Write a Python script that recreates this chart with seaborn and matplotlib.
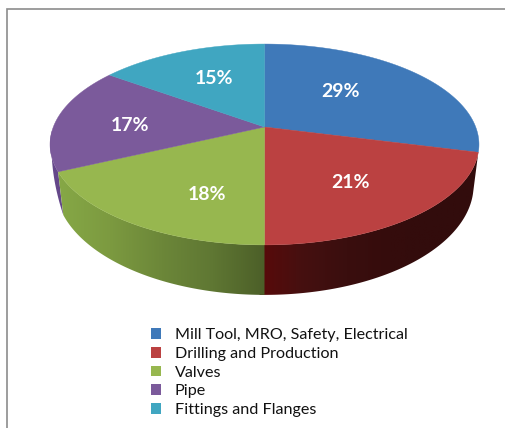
import numpy as np
import matplotlib
matplotlib.use("Agg")
import matplotlib.pyplot as plt
from matplotlib.colors import LinearSegmentedColormap
from matplotlib.patches import Patch, Polygon
import seaborn as sns

categories = ["Mill Tool, MRO, Safety, Electrical", "Drilling and Production",
              "Valves", "Pipe", "Fittings and Flanges"]
shares = [29, 21, 18, 17, 15]
top_colors = ["#3F79B9", "#BB4141", "#97B74F", "#7B5A9B", "#40A6C1"]

sns.set_theme(style="white")
plt.rcParams["font.family"] = ["Lato", "DejaVu Sans"]

fig = plt.figure(figsize=(5.06, 4.28), dpi=100, facecolor="white")
ax = fig.add_axes([0, 0, 1, 1])
ax.set_xlim(0, 506)
ax.set_ylim(428, 0)
ax.axis("off")

# Perspective disc: unit circle projected to pixel-like axes units
CX, CY = 264.5, 127.0
A, B, K = 211.2, 97.4, 0.174


def rim(theta, x_scale=1.0, y_scale=1.0, drop=0.0):
    u, v = np.sin(theta), -np.cos(theta)
    w = 1 - K * v
    return CX + x_scale * A * u / w, CY + drop + y_scale * B * v / w


def lower_rim(theta):
    return rim(theta, x_scale=0.975, y_scale=1.093, drop=39.0)


edges = 2 * np.pi * np.cumsum([0] + shares) / sum(shares)

# Shades across the visible outer wall of each slice, listed left to right
wall_shades = {
    1: ["#5A0A0A", "#451010", "#3A0E0E", "#350C0C", "#320C0C", "#320C0C"],
    2: ["#86A846", "#7C9A40", "#6C8739", "#5F7733", "#4C5F28"],
    3: ["#65488A", "#65488A"],
}
# The red wall runs slightly under the green one so no seam shows between them
wall_limits = {1: (edges[1], edges[2] + 0.02), 2: (edges[2], edges[3]),
               3: (edges[3], np.radians(268))}

for idx in (3, 1, 2):
    start, stop = wall_limits[idx]
    th = np.linspace(start, stop, 240)
    x0, y0 = rim(th)
    x1, y1 = lower_rim(th)
    if idx == 3:
        # Far-left wall narrows towards the silhouette of the top face
        taper = np.linspace(1, 0, th.size)
        x1, y1 = x0 + taper * (x1 - x0), y0 + taper * (y1 - y0)
    outline = np.r_[np.c_[x0, y0], np.c_[x1[::-1], y1[::-1]]]
    clip = Polygon(outline, closed=True, transform=ax.transData, facecolor="none",
                   edgecolor="none")
    ax.add_patch(clip)
    # Horizontal gradient clipped to the wall outline
    cmap = LinearSegmentedColormap.from_list(
        f"wall{idx}", sns.blend_palette(wall_shades[idx], n_colors=64))
    xmin, xmax = outline[:, 0].min(), outline[:, 0].max()
    ymin, ymax = outline[:, 1].min(), outline[:, 1].max()
    im = ax.imshow(np.linspace(0, 1, 256)[None, :], cmap=cmap, aspect="auto",
                   extent=(xmin, xmax, ymax, ymin), zorder=2, interpolation="bilinear")
    im.set_clip_path(clip)

ax.set_xlim(0, 506)
ax.set_ylim(428, 0)

# Top face of the pie
for i, color in enumerate(top_colors):
    th = np.linspace(edges[i], edges[i + 1], 200)
    xs, ys = rim(th)
    ax.add_patch(Polygon(np.r_[[[CX, CY]], np.c_[xs, ys]], closed=True,
                         facecolor=color, edgecolor=color, linewidth=0.3,
                         zorder=3))

label_anchor = [(341, 91), (351, 182), (207, 194), (130, 125), (214, 78)]
for share, (lx, ly) in zip(shares, label_anchor):
    ax.text(lx, ly, f"{share}%", color="white", fontsize=14, fontweight="bold",
            ha="center", va="center", zorder=5)

# Frame drawn only along the top and left
ax.plot([7, 7, 506], [428, 9, 9], color="#8C8C8C", linewidth=1.2,
        solid_joinstyle="miter", zorder=1, clip_on=False)

handles = [Patch(facecolor=c, edgecolor="none") for c in top_colors]
ax.legend(handles, categories, loc="upper left",
          bbox_to_anchor=(146.5 / 506, 1 - 323.5 / 428), frameon=False,
          fontsize=11.65, handlelength=0.62, handleheight=0.62, handletextpad=0.82,
          labelspacing=0.29, borderpad=0.3, borderaxespad=0, labelcolor="#111111")

fig.savefig("out.png", dpi=100, facecolor="white")
